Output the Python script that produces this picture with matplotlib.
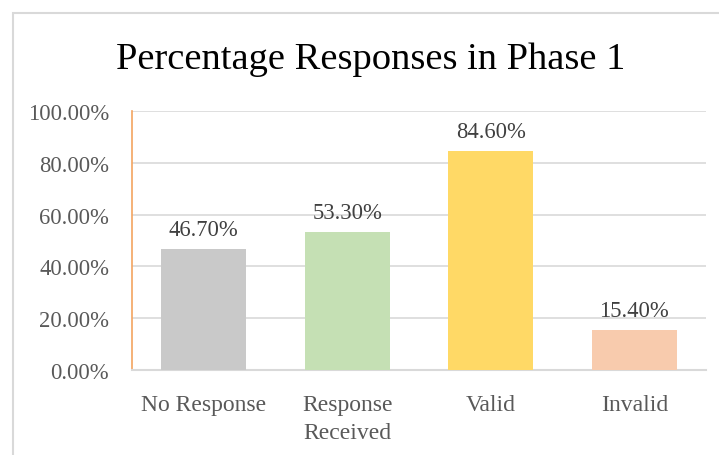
import matplotlib
matplotlib.use('Agg')
import matplotlib.pyplot as plt
from matplotlib.patches import Rectangle
from matplotlib.ticker import FuncFormatter

# datos
categorias = ['No Response', 'Response\nReceived', 'Valid', 'Invalid']
valores = [46.70, 53.30, 84.60, 15.40]
colores = ['#C9C9C9', '#C5E0B4', '#FFD966', '#F8CBAD']

plt.rcParams['font.family'] = ['Liberation Serif', 'DejaVu Serif']

W, H = 719, 456
fig = plt.figure(figsize=(W / 100, H / 100), dpi=100)

# marco exterior del grafico
fig.patches.append(Rectangle((13 / W, -0.1), 1.2, 1 - 14 / H + 0.1,
                             transform=fig.transFigure, fill=False,
                             edgecolor='#D9D9D9', linewidth=1.5))

ax = fig.add_axes([132 / W, 1 - 371 / H, (706 - 132) / W, (371 - 112) / H])

x = range(len(categorias))
ax.bar(x, valores, width=0.59, color=colores, zorder=3)

for xi, v in zip(x, valores):
    ax.text(xi, v + 3.5, f'{v:.2f}%', ha='center', va='bottom',
            fontsize=16.3, color='#404040')

ax.set_xlim(-0.5, 3.5)
ax.set_ylim(0, 100)
ax.set_yticks(range(0, 101, 20))
ax.yaxis.set_major_formatter(FuncFormatter(lambda v, p: f'{v:.2f}%'))
ax.set_xticks(list(x))
ax.set_xticklabels(categorias, linespacing=1.45)
ax.tick_params(axis='both', length=0, labelcolor='#595959')
ax.tick_params(axis='x', pad=17, labelsize=17)
ax.tick_params(axis='y', pad=16.5, labelsize=16.3)

ax.grid(axis='y', color='#D9D9D9', linewidth=1.2, zorder=0)
for s in ['top', 'right']:
    ax.spines[s].set_visible(False)
ax.spines['left'].set_color('#F4A460')
ax.spines['left'].set_linewidth(1.2)
ax.spines['bottom'].set_color('#D9D9D9')
ax.spines['bottom'].set_linewidth(1.5)

fig.text(371 / W, 1 - 60 / H, 'Percentage Responses in Phase 1',
         ha='center', va='center', fontsize=27.7, color='#000000')

fig.savefig('out.png', dpi=100, facecolor='white')
